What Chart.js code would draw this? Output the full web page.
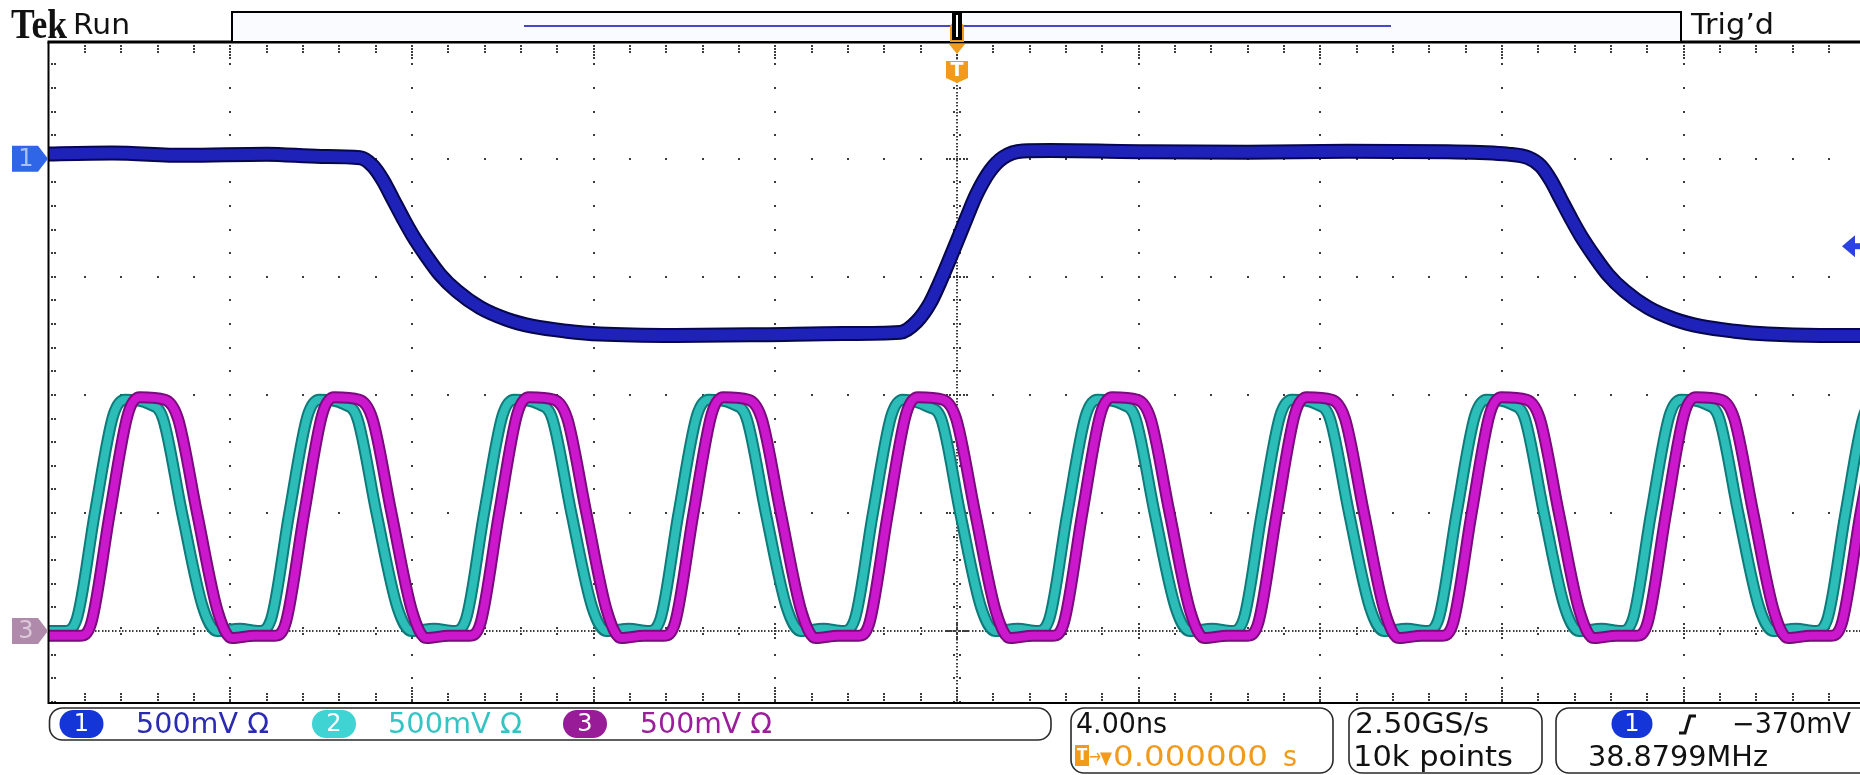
<!DOCTYPE html>
<html lang="en">
<head>
<meta charset="utf-8">
<title>Tek Run - ch1/ch2/ch3</title>
<script src="https://cdn.jsdelivr.net/npm/chart.js@4.4.1/dist/chart.umd.min.js"></script>
<style>
  html, body { margin: 0; padding: 0; background: #ffffff; overflow: hidden; }
  #scope { display: block; }
</style>
</head>
<body>
<canvas id="scope" width="1872" height="775"></canvas>
<script>
Chart.defaults.font.family = '"DejaVu Sans", sans-serif';

// screen is 10 x 4.00 ns, trigger point in the middle
const timeMin = -20;
const timeMax = 20;
const nsPerDiv = 4;
// vertical axis is in divisions above the ch2/ch3 ground marker
const divMin = -0.61;
const divMax = 4.99;
const voltsPerDiv = 0.5;   // all channels at 500mV/div
const ch1Ground = 4;       // ch1 marker sits 4 divs higher

// ch1 (blue), trigger source
const ch1Time = [-20.3, -18.6, -17.0, -15.2, -14.0, -13.14, -12.86, -12.64, -12.42, -12.20,
  -11.98, -11.67, -11.38, -11.01, -10.50, -9.91, -9.33, -8.59, -7.86, -6.2,
  -4.3, -2.5, -1.25, -0.89, -0.59, -0.37, -0.15, 0.00, 0.21, 0.43,
  0.73, 1.01, 1.45, 2.05, 4.2, 6.4, 8.6, 10.8, 12.13, 12.57,
  12.85, 13.07, 13.29, 13.51, 13.73, 14.04, 14.33, 14.70, 15.21, 15.80,
  16.38, 17.12, 17.85, 19.0, 20.3];
const ch1Volt = [0.02, 0.025, 0.015, 0.02, 0.01, 0.005, -0.03, -0.09, -0.17, -0.25,
  -0.325, -0.415, -0.49, -0.56, -0.63, -0.68, -0.71, -0.73, -0.742, -0.748,
  -0.745, -0.74, -0.735, -0.69, -0.61, -0.52, -0.42, -0.35, -0.25, -0.15,
  -0.05, 0.005, 0.033, 0.035, 0.03, 0.028, 0.032, 0.03, 0.02, 0.005,
  -0.03, -0.09, -0.17, -0.25, -0.325, -0.415, -0.49, -0.56, -0.63, -0.68,
  -0.71, -0.73, -0.742, -0.748, -0.748];

// ch2 (cyan), one row per pulse
const ch2Time = [-20.3,
  -19.64, -19.38, -18.98, -18.58, -18.32, -17.77, -17.48, -17.06, -16.60, -16.29, -15.79,
  -15.36, -15.10, -14.70, -14.30, -14.04, -13.49, -13.20, -12.78, -12.32, -12.01, -11.51,
  -11.07, -10.81, -10.41, -10.01, -9.75, -9.20, -8.91, -8.49, -8.03, -7.72, -7.22,
  -6.79, -6.53, -6.13, -5.73, -5.47, -4.92, -4.63, -4.21, -3.75, -3.44, -2.94,
  -2.51, -2.25, -1.85, -1.45, -1.19, -0.64, -0.35, 0.07, 0.53, 0.84, 1.34,
  1.77, 2.03, 2.43, 2.83, 3.09, 3.64, 3.93, 4.35, 4.81, 5.12, 5.62,
  6.05, 6.31, 6.71, 7.11, 7.37, 7.92, 8.21, 8.63, 9.09, 9.40, 9.90,
  10.34, 10.60, 11.00, 11.40, 11.66, 12.21, 12.50, 12.92, 13.38, 13.69, 14.19,
  14.62, 14.88, 15.28, 15.68, 15.94, 16.49, 16.78, 17.20, 17.66, 17.97, 18.47,
  18.90, 19.16, 19.56, 19.96, 20.22];
const ch2Volt = [0.00,
  0.00, 0.05, 0.50, 0.91, 0.98, 0.96, 0.90, 0.50, 0.10, 0.00, 0.01,
  0.00, 0.05, 0.50, 0.91, 0.98, 0.96, 0.90, 0.50, 0.10, 0.00, 0.01,
  0.00, 0.05, 0.50, 0.91, 0.98, 0.96, 0.90, 0.50, 0.10, 0.00, 0.01,
  0.00, 0.05, 0.50, 0.91, 0.98, 0.96, 0.90, 0.50, 0.10, 0.00, 0.01,
  0.00, 0.05, 0.50, 0.91, 0.98, 0.95, 0.90, 0.50, 0.10, 0.00, 0.01,
  0.00, 0.05, 0.50, 0.91, 0.98, 0.96, 0.90, 0.50, 0.10, 0.00, 0.01,
  0.00, 0.05, 0.50, 0.91, 0.98, 0.96, 0.90, 0.50, 0.10, 0.00, 0.01,
  0.00, 0.05, 0.50, 0.91, 0.98, 0.96, 0.90, 0.50, 0.10, 0.00, 0.01,
  0.00, 0.05, 0.50, 0.91, 0.98, 0.96, 0.90, 0.50, 0.10, 0.00, 0.01,
  0.00, 0.05, 0.50, 0.91, 0.98];

// ch3 (magenta), lags ch2 by about a third of a ns
const ch3Time = [-20.3,
  -19.31, -19.05, -18.65, -18.25, -17.99, -17.44, -17.15, -16.73, -16.27, -15.96, -15.46,
  -15.03, -14.77, -14.37, -13.97, -13.71, -13.16, -12.87, -12.45, -11.99, -11.68, -11.18,
  -10.74, -10.48, -10.08, -9.68, -9.42, -8.87, -8.58, -8.16, -7.70, -7.39, -6.89,
  -6.46, -6.20, -5.80, -5.40, -5.14, -4.59, -4.30, -3.88, -3.42, -3.11, -2.61,
  -2.18, -1.92, -1.52, -1.12, -0.86, -0.31, -0.02, 0.40, 0.86, 1.17, 1.67,
  2.10, 2.36, 2.76, 3.16, 3.42, 3.97, 4.26, 4.68, 5.14, 5.45, 5.95,
  6.38, 6.64, 7.04, 7.44, 7.70, 8.25, 8.54, 8.96, 9.42, 9.73, 10.23,
  10.67, 10.93, 11.33, 11.73, 11.99, 12.54, 12.83, 13.25, 13.71, 14.02, 14.52,
  14.95, 15.21, 15.61, 16.01, 16.27, 16.82, 17.11, 17.53, 17.99, 18.30, 18.80,
  19.23, 19.49, 19.89, 20.29];
const ch3Volt = [-0.02,
  -0.02, 0.04, 0.50, 0.92, 0.99, 0.98, 0.90, 0.50, 0.08, -0.03, -0.02,
  -0.02, 0.04, 0.50, 0.92, 0.99, 0.98, 0.90, 0.50, 0.08, -0.03, -0.02,
  -0.02, 0.04, 0.50, 0.92, 0.99, 0.98, 0.90, 0.50, 0.08, -0.03, -0.02,
  -0.02, 0.04, 0.50, 0.92, 0.99, 0.98, 0.90, 0.50, 0.08, -0.03, -0.02,
  -0.02, 0.04, 0.50, 0.92, 0.99, 0.98, 0.90, 0.50, 0.08, -0.03, -0.02,
  -0.02, 0.04, 0.50, 0.92, 0.99, 0.98, 0.90, 0.50, 0.08, -0.03, -0.02,
  -0.02, 0.04, 0.50, 0.92, 0.99, 0.98, 0.90, 0.50, 0.08, -0.03, -0.02,
  -0.02, 0.04, 0.50, 0.92, 0.99, 0.98, 0.90, 0.50, 0.08, -0.03, -0.02,
  -0.02, 0.04, 0.50, 0.92, 0.99, 0.98, 0.90, 0.50, 0.08, -0.03, -0.02,
  -0.02, 0.04, 0.50, 0.92];

// readouts
const channelNames = ['1', '2', '3'];
const channelScales = ['500mV \u03A9', '500mV \u03A9', '500mV \u03A9'];
const timebase = '4.00ns';
const triggerDelay = '0.000000';
const sampleRate = '2.50GS/s';
const recordLength = '10k points';
const triggerLevelV = -0.37;
const triggerLevelText = '\u2212370mV';
const triggerFreq = '38.8799MHz';

const toPoints = (times, volts, ground) =>
  times.map((t, i) => ({ x: t, y: volts[i] / voltsPerDiv + ground }));

function trace(points, color, width, order) {
  return {
    data: points,
    borderColor: color,
    borderWidth: width,
    pointRadius: 0,
    cubicInterpolationMode: 'monotone',
    borderJoinStyle: 'round',
    borderCapStyle: 'round',
    clip: 0,
    order: order
  };
}

// text squeezed/stretched to the width it has on the scope screen
function fitText(ctx, str, x, base, size, color, width, family, weight) {
  ctx.save();
  ctx.font = (weight || 'normal') + ' ' + size + 'px ' + (family || '"DejaVu Sans"');
  ctx.fillStyle = color;
  ctx.textAlign = 'left';
  ctx.textBaseline = 'alphabetic';
  const w = ctx.measureText(str).width;
  ctx.translate(x, base);
  if (width) ctx.scale(width / w, 1);
  ctx.fillText(str, 0, 0);
  ctx.restore();
}

function pill(ctx, label, cx, cy, w, h, fill) {
  ctx.save();
  ctx.beginPath();
  ctx.roundRect(cx - w / 2, cy - h / 2, w, h, h / 2);
  ctx.fillStyle = fill;
  ctx.fill();
  ctx.fillStyle = '#ffffff';
  ctx.font = '24px "DejaVu Sans"';
  ctx.textAlign = 'center';
  ctx.textBaseline = 'middle';
  ctx.fillText(label, cx, cy + 1);
  ctx.restore();
}

function groundMarker(ctx, label, py, fill, ink) {
  ctx.save();
  ctx.beginPath();
  ctx.moveTo(12, py - 13);
  ctx.lineTo(38, py - 13);
  ctx.lineTo(48, py);
  ctx.lineTo(38, py + 13);
  ctx.lineTo(12, py + 13);
  ctx.closePath();
  ctx.fillStyle = fill;
  ctx.fill();
  ctx.fillStyle = ink;
  ctx.font = '24px "DejaVu Sans"';
  ctx.textAlign = 'center';
  ctx.textBaseline = 'middle';
  ctx.fillText(label, 26, py + 1);
  ctx.restore();
}

const graticule = {
  id: 'graticule',
  beforeDatasetsDraw(chart) {
    const { ctx, chartArea: a, scales: { x, y } } = chart;
    ctx.save();
    ctx.fillStyle = '#3c3c3c';
    const dot = (px, py) => ctx.fillRect(Math.round(px) - 1, Math.round(py) - 1, 2, 2);
    const cols = [];
    for (let i = 0; i <= 50; i++) cols.push({ px: x.getPixelForValue(timeMin + i * nsPerDiv / 5), major: i % 5 === 0, centre: i === 25, edge: i === 0 || i === 50 });
    const rows = [];
    for (let k = Math.ceil(divMin * 5); k <= Math.floor(divMax * 5); k++) rows.push({ py: y.getPixelForValue(k / 5), major: k % 5 === 0, centre: k === 0 });

    // dotted major lines
    cols.filter(c => c.major && !c.centre && !c.edge).forEach(c => rows.forEach(r => dot(c.px, r.py)));
    rows.filter(r => r.major && !r.centre).forEach(r => cols.forEach(c => { if (!c.edge) dot(c.px, r.py); }));

    // centre lines: dense dots with little crosses
    const cx = x.getPixelForValue(0);
    const cy = y.getPixelForValue(0);
    for (let py = a.top + 2; py < a.bottom; py += 3.4) ctx.fillRect(Math.round(cx) - 1, Math.round(py), 2, 1.5);
    for (let px = a.left + 2; px < a.right; px += 3.4) ctx.fillRect(Math.round(px), Math.round(cy) - 1, 1.5, 2);
    rows.forEach(r => {
      const n = r.major ? 3 : 1;
      for (let j = 1; j <= n; j++) { dot(cx - j * 3.4, r.py); dot(cx + j * 3.4, r.py); }
    });
    cols.forEach(c => {
      if (c.edge) return;
      const n = c.major ? 2 : 1;
      for (let j = 1; j <= n; j++) { dot(c.px, cy - j * 3.4); dot(c.px, cy + j * 3.4); }
    });

    // edge ticks
    cols.forEach(c => {
      if (c.edge) return;
      const n = c.major ? 5 : 3;
      for (let j = 1; j <= n; j++) { dot(c.px, a.top + 1 + j * 3); dot(c.px, a.bottom - j * 3); }
    });
    rows.forEach(r => { dot(a.left + 3, r.py); dot(a.left + 6, r.py); });
    ctx.restore();
  },
  afterDatasetsDraw(chart) {
    const { ctx, chartArea: a } = chart;
    ctx.save();
    ctx.strokeStyle = '#000000';
    ctx.lineWidth = 2;
    ctx.beginPath();
    ctx.moveTo(a.right + 4, a.bottom);
    ctx.lineTo(a.left, a.bottom);
    ctx.lineTo(a.left, a.top);
    ctx.stroke();
    ctx.lineWidth = 3;
    ctx.beginPath();
    ctx.moveTo(a.left - 1, a.top);
    ctx.lineTo(a.right + 4, a.top);
    ctx.stroke();
    ctx.restore();
  }
};

const screenFurniture = {
  id: 'screenFurniture',
  afterDraw(chart) {
    const { ctx, chartArea: a, scales: { x, y } } = chart;
    const tx = x.getPixelForValue(0);
    const orange = '#f29a1b';
    ctx.save();

    // header
    fitText(ctx, 'Tek', 11, 38, 42, '#111111', 56, '"Liberation Serif"', 'bold');
    fitText(ctx, 'Run', 73, 34, 28, '#111111', 57);
    fitText(ctx, 'Trig\u2019d', 1691, 34, 28, '#111111', 83);

    // record overview box
    ctx.fillStyle = '#f9fbff';
    ctx.fillRect(232, 12, 1449, a.top - 12);
    ctx.strokeStyle = '#000000';
    ctx.lineWidth = 2;
    ctx.strokeRect(232, 12, 1449, a.top - 12);
    ctx.strokeStyle = '#4747c4';
    ctx.lineWidth = 2;
    ctx.beginPath();
    ctx.moveTo(524, 26);
    ctx.lineTo(1391, 26);
    ctx.stroke();

    // trigger position marker
    ctx.fillStyle = orange;
    ctx.beginPath();
    ctx.moveTo(tx - 7, 26); ctx.lineTo(tx - 4, 22); ctx.lineTo(tx + 4, 22);
    ctx.lineTo(tx + 7, 26); ctx.lineTo(tx + 7, a.top); ctx.lineTo(tx - 7, a.top);
    ctx.closePath();
    ctx.fill();
    ctx.fillStyle = '#000000';
    ctx.fillRect(tx - 5, 12, 10, a.top - 14);
    ctx.fillStyle = '#ffffff';
    ctx.fillRect(tx - 1, 15, 2, a.top - 20);
    ctx.fillStyle = orange;
    ctx.beginPath();
    ctx.moveTo(tx - 8, a.top + 2); ctx.lineTo(tx + 8, a.top + 2); ctx.lineTo(tx, a.top + 12);
    ctx.closePath();
    ctx.fill();
    ctx.beginPath();
    ctx.moveTo(tx - 11, a.top + 19); ctx.lineTo(tx + 11, a.top + 19);
    ctx.lineTo(tx + 11, a.top + 36); ctx.lineTo(tx, a.top + 41); ctx.lineTo(tx - 11, a.top + 36);
    ctx.closePath();
    ctx.fill();
    ctx.fillStyle = '#ffffff';
    ctx.font = 'bold 19px "DejaVu Sans"';
    ctx.textAlign = 'center';
    ctx.textBaseline = 'middle';
    ctx.fillText('T', tx, a.top + 29);

    // ground markers and trigger level
    groundMarker(ctx, '1', y.getPixelForValue(ch1Ground), '#2f66e8', '#a8c0f4');
    groundMarker(ctx, '3', y.getPixelForValue(0), '#b08aaa', '#dcc8da');
    const ly = y.getPixelForValue(triggerLevelV / voltsPerDiv + ch1Ground);
    ctx.fillStyle = '#2a42e2';
    ctx.beginPath();
    ctx.moveTo(1842, ly); ctx.lineTo(1855, ly - 11); ctx.lineTo(1855, ly + 11);
    ctx.closePath();
    ctx.fill();
    ctx.fillRect(1853, ly - 3, 10, 6);

    // status bar
    ctx.strokeStyle = '#2a2a2a';
    ctx.lineWidth = 1.6;
    const box = (x0, x1, y0, y1) => { ctx.beginPath(); ctx.roundRect(x0, y0, x1 - x0, y1 - y0, 13); ctx.stroke(); };
    box(49.5, 1051, 708, 740);
    box(1071, 1333, 708, 773);
    box(1349, 1542, 708, 773);
    box(1556, 1900, 708, 773);

    const chanFill = ['#1436d8', '#3fd3d3', '#981c98'];
    const chanInk = ['#2b2bb2', '#35c4c4', '#9b1e9b'];
    const pillX = [81.5, 334, 585];
    const textX = [136, 388, 640];
    const textW = [133, 134, 132];
    channelNames.forEach((n, i) => {
      pill(ctx, n, pillX[i], 724, 44, 28, chanFill[i]);
      fitText(ctx, channelScales[i], textX[i], 733, 28, chanInk[i], textW[i]);
    });

    fitText(ctx, timebase, 1076, 733, 28, '#111111', 91);
    ctx.fillStyle = orange;
    ctx.fillRect(1075, 745, 14, 21);
    ctx.fillStyle = '#ffffff';
    ctx.font = 'bold 15px "DejaVu Sans"';
    ctx.textAlign = 'center';
    ctx.textBaseline = 'middle';
    ctx.fillText('T', 1082, 756);
    fitText(ctx, '\u2192', 1089, 763, 20, orange, 12);
    fitText(ctx, '\u25BC', 1100, 764, 18, orange, 12);
    fitText(ctx, triggerDelay, 1113, 766, 28, orange, 155);
    fitText(ctx, 's', 1283, 766, 28, orange, 14);

    fitText(ctx, sampleRate, 1355, 733, 28, '#111111', 134);
    fitText(ctx, recordLength, 1353, 766, 28, '#111111', 160);

    pill(ctx, '1', 1632, 724, 41, 28, '#1436d8');
    ctx.strokeStyle = '#111111';
    ctx.lineWidth = 3;
    ctx.beginPath();
    ctx.moveTo(1679, 733); ctx.lineTo(1685, 733); ctx.lineTo(1690, 716); ctx.lineTo(1696, 716);
    ctx.stroke();
    fitText(ctx, triggerLevelText, 1732, 733, 28, '#111111', 119);
    fitText(ctx, triggerFreq, 1588, 766, 28, '#111111', 180);
    ctx.restore();
  }
};

const chart = new Chart(document.getElementById('scope'), {
  type: 'line',
  data: {
    datasets: [
      trace(toPoints(ch3Time, ch3Volt, 0), '#cc18cc', 8, 0),
      trace(toPoints(ch3Time, ch3Volt, 0), '#7a0a7e', 12, 1),
      trace(toPoints(ch2Time, ch2Volt, 0), '#2cbdb8', 8, 2),
      trace(toPoints(ch2Time, ch2Volt, 0), '#0f7a7a', 12, 3),
      trace(toPoints(ch1Time, ch1Volt, ch1Ground), '#1e22b8', 11, 4),
      trace(toPoints(ch1Time, ch1Volt, ch1Ground), '#07074e', 15, 5)
    ]
  },
  options: {
    responsive: false,
    animation: false,
    devicePixelRatio: 1,
    events: [],
    layout: { padding: { left: 48.5, top: 42, right: 6.5, bottom: 72 } },
    scales: {
      x: { type: 'linear', min: timeMin, max: timeMax, display: false },
      y: { type: 'linear', min: divMin, max: divMax, display: false }
    },
    plugins: { legend: { display: false }, tooltip: { enabled: false } }
  },
  plugins: [graticule, screenFurniture]
});
</script>
</body>
</html>
